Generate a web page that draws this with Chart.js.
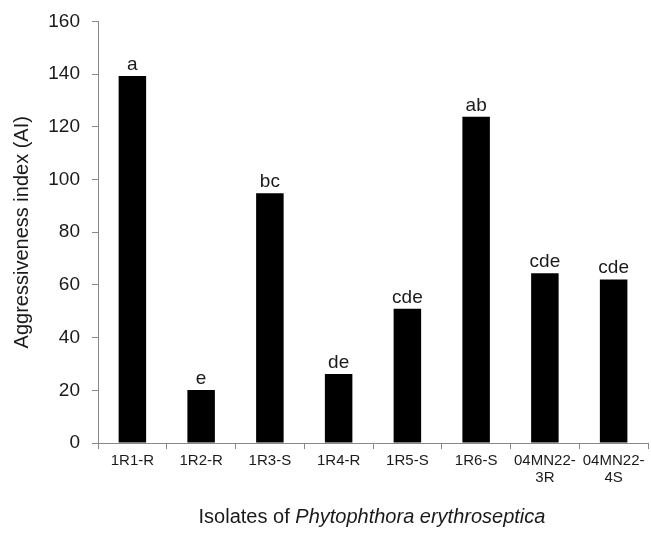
<!DOCTYPE html>
<html>
<head>
<meta charset="utf-8">
<script src="https://cdn.jsdelivr.net/npm/chart.js@4.4.0/dist/chart.umd.min.js"></script>
<style>
  html, body { margin: 0; padding: 0; background: #fff; }
  #wrap { width: 651px; height: 535px; }
</style>
</head>
<body>
<div id="wrap"><canvas id="grafico" width="651" height="535"></canvas></div>
<script>
const isolates = ['1R1-R', '1R2-R', '1R3-S', '1R4-R', '1R5-S', '1R6-S', ['04MN22-', '3R'], ['04MN22-', '4S']];
const aggressiveness = [139.3, 20.1, 94.8, 26.2, 51, 123.8, 64.4, 62.1];
const letters = ['a', 'e', 'bc', 'de', 'cde', 'ab', 'cde', 'cde'];
const yTicks = [0, 20, 40, 60, 80, 100, 120, 140, 160];

const FONT = '"Liberation Sans", Arial, sans-serif';
const TXT = '#1a1a1a';

// letras de significancia encima de cada barra + titulo del eje X
const extras = {
  id: 'extras',
  afterDatasetsDraw(chart) {
    const ctx = chart.ctx;
    const meta = chart.getDatasetMeta(0);
    ctx.save();
    ctx.fillStyle = TXT;
    ctx.font = '19px ' + FONT;
    ctx.textAlign = 'center';
    ctx.textBaseline = 'alphabetic';
    meta.data.forEach((bar, i) => {
      ctx.fillText(letters[i], bar.x, bar.y - 6);
    });

    // titulo eje X con parte en cursiva
    const a = 'Isolates of ';
    const b = 'Phytophthora erythroseptica';
    ctx.font = '20px ' + FONT;
    const wa = ctx.measureText(a).width;
    ctx.font = 'italic 20px ' + FONT;
    const wb = ctx.measureText(b).width;
    const x0 = 372 - (wa + wb) / 2;
    ctx.textAlign = 'left';
    ctx.font = '20px ' + FONT;
    ctx.fillText(a, x0, 523);
    ctx.font = 'italic 20px ' + FONT;
    ctx.fillText(b, x0 + wa, 523);
    ctx.restore();
  }
};

new Chart(document.getElementById('grafico').getContext('2d'), {
  type: 'bar',
  data: {
    labels: isolates,
    datasets: [{
      label: 'AI',
      data: aggressiveness,
      backgroundColor: '#000',
      borderWidth: 0,
      barPercentage: 0.4,
      categoryPercentage: 1.0
    }]
  },
  options: {
    responsive: false,
    animation: false,
    layout: { padding: { top: 9, right: 3, left: 0, bottom: 0 } },
    plugins: {
      legend: { display: false },
      tooltip: { enabled: false }
    },
    scales: {
      x: {
        grid: {
          offset: true,
          drawOnChartArea: false,
          tickLength: 6,
          color: '#888'
        },
        border: { color: '#888', width: 1 },
        ticks: {
          color: TXT,
          font: { size: 15, family: FONT, lineHeight: 1.15 },
          padding: 3,
          maxRotation: 0,
          autoSkip: false
        },
        afterFit(scale) { scale.height = 92; }
      },
      y: {
        min: 0,
        max: 160,
        afterBuildTicks(scale) { scale.ticks = yTicks.map(v => ({ value: v })); },
        grid: {
          drawOnChartArea: false,
          tickLength: 6,
          color: '#888'
        },
        border: { color: '#888', width: 1 },
        ticks: {
          color: TXT,
          font: { size: 19, family: FONT, lineHeight: 1.0 },
          padding: 12
        },
        title: {
          display: true,
          text: 'Aggressiveness index (AI)',
          color: TXT,
          font: { size: 20, family: FONT },
          padding: { top: 10, bottom: 0 }
        },
        afterFit(scale) { scale.width = 98; }
      }
    }
  },
  plugins: [extras]
});
</script>
</body>
</html>
